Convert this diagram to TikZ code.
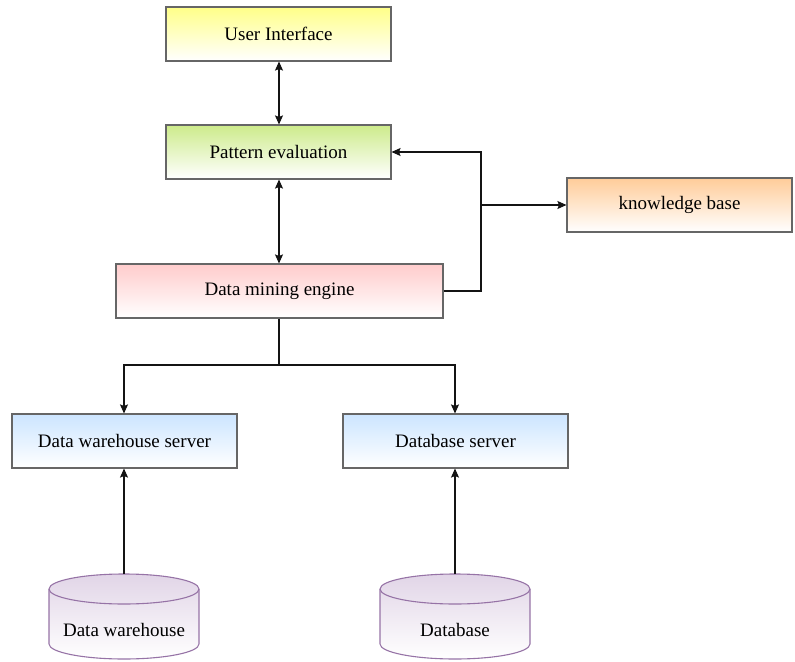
\documentclass[tikz,border=0pt]{standalone}
\usepackage{fontspec}
\setmainfont{Liberation Serif}
\usetikzlibrary{arrows.meta}
\definecolor{cYel}{RGB}{255,255,136}
\definecolor{cGrn}{RGB}{205,235,139}
\definecolor{cOrg}{RGB}{255,204,153}
\definecolor{cPnk}{RGB}{255,204,204}
\definecolor{cBlu}{RGB}{204,229,255}
\definecolor{cPur}{RGB}{225,213,231}
\definecolor{cPurB}{RGB}{150,115,166}
\definecolor{cBord}{RGB}{102,102,102}
\definecolor{cLine}{RGB}{20,20,20}
\begin{document}
\begin{tikzpicture}[x=1bp,y=1bp,
  font=\fontsize{19bp}{23bp}\selectfont,
  box/.style={draw=cBord, line width=1.1bp, rectangle, minimum width=225bp, minimum height=54bp, inner sep=0pt, bottom color=white, top color=#1},
  conn/.style={draw=cLine, line width=1.1bp, -{Stealth[length=9bp,width=8bp,inset=1.5bp]}},
  biconn/.style={draw=cLine, line width=1.1bp, {Stealth[length=9bp,width=8bp,inset=1.5bp]}-{Stealth[length=9bp,width=8bp,inset=1.5bp]}},
  plain/.style={draw=cLine, line width=1.1bp},
  cyl/.style={draw=cPurB, line width=1.1bp, top color=cPur, bottom color=white}
]
\useasboundingbox (0,0) rectangle (795,-662);

\node[box=cYel] (ui) at (278.5,-34) {User Interface};
\node[box=cGrn] (pe) at (278.5,-152) {Pattern evaluation};
\node[box=cOrg] (kb) at (679.5,-205) {knowledge base};
\node[box=cPnk, minimum width=327bp] (dme) at (279.5,-291) {Data mining engine};
\node[box=cBlu] (dws) at (124.5,-441) {Data warehouse server};
\node[box=cBlu] (dbs) at (455.5,-441) {Database server};

% cylinders
\shade[cyl] (49,-589) -- (49,-644) arc[start angle=180,end angle=360,x radius=75,y radius=15] -- (199,-589) arc[start angle=0,end angle=180,x radius=75,y radius=15] -- cycle;
\draw[draw=cPurB, line width=1.1bp] (49,-589) arc[start angle=180,end angle=360,x radius=75,y radius=15];
\coordinate (dwtop) at (124,-574);
\node (dw) at (124,-630) {Data warehouse};

\shade[cyl] (380,-589) -- (380,-644) arc[start angle=180,end angle=360,x radius=75,y radius=15] -- (530,-589) arc[start angle=0,end angle=180,x radius=75,y radius=15] -- cycle;
\draw[draw=cPurB, line width=1.1bp] (380,-589) arc[start angle=180,end angle=360,x radius=75,y radius=15];
\coordinate (dbtop) at (455,-574);
\node (db) at (455,-630) {Database};

% connectors
\draw[biconn] (ui.south -| 279,0) -- (pe.north -| 279,0);
\draw[biconn] (pe.south -| 279,0) -- (dme.north -| 279,0);

\coordinate (jk) at (481,-205);
\draw[plain] (dme.east) -| (jk);
\draw[conn] (jk) -- (kb.west);
\draw[conn] (jk) |- (pe.east);

\coordinate (jd) at (279,-365);
\draw[plain] (dme.south -| jd) -- (jd);
\draw[conn] (jd) -| (dws.north -| 124,0);
\draw[conn] (jd) -| (dbs.north -| 455,0);

\draw[conn] (dwtop) -- (dws.south -| dwtop);
\draw[conn] (dbtop) -- (dbs.south -| dbtop);
\end{tikzpicture}
\end{document}
